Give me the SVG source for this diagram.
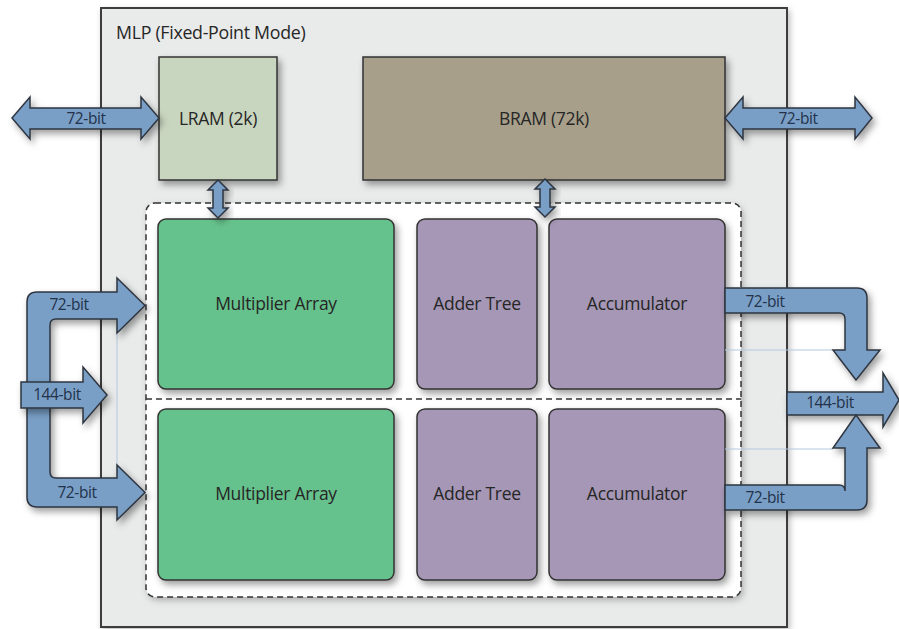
<svg xmlns="http://www.w3.org/2000/svg" width="899" height="629" viewBox="0 0 899 629">
  <defs>
    <filter id="shadow" x="-20%" y="-20%" width="150%" height="150%">
      <feDropShadow dx="3" dy="4" stdDeviation="3.5" flood-color="#000" flood-opacity="0.38"/>
    </filter>
    <filter id="softShadow" x="-10%" y="-10%" width="130%" height="130%">
      <feDropShadow dx="2" dy="3" stdDeviation="3" flood-color="#000" flood-opacity="0.25"/>
    </filter>
  </defs>
  <style>
    text { font-family: "Open Sans", "Liberation Sans", sans-serif; fill: #262626; }
    .frame { fill: #e9eaea; stroke: #3c3c3c; stroke-width: 2; }
    .block { stroke: #333; stroke-width: 1.5; filter: url(#shadow); }
    .lram { fill: #c9d6bf; }
    .bram { fill: #a89f8b; }
    .mult { fill: #66c28c; }
    .purple { fill: #a597b5; }
    .region { fill: #ffffff; stroke: #333; stroke-width: 1.5; stroke-dasharray: 6 4; filter: url(#softShadow); }
    .divider { stroke: #333; stroke-width: 1.5; stroke-dasharray: 6 4; fill: none; }
    .bus { fill: #7a9fc6; stroke: #2f3640; stroke-width: 1.5; stroke-linejoin: miter; filter: url(#shadow); }
    .wire { stroke: #b4c8df; stroke-width: 1; fill: none; }
    .lbl { font-size: 17.5px; text-anchor: middle; letter-spacing: -0.3px; }
    .bus-lbl { font-size: 15.5px; text-anchor: middle; fill: #22324a; letter-spacing: -0.4px; }
  </style>

  <!-- MLP outer frame -->
  <g id="mlp">
    <rect class="frame" x="101" y="8" width="686" height="619" filter="url(#softShadow)"/>
    <text x="116" y="39" style="font-size:17.8px; letter-spacing:-0.3px">MLP (Fixed-Point Mode)</text>
  </g>

  <!-- datapath region -->
  <g id="datapath">
    <rect class="region" x="146" y="203" width="595" height="394" rx="9"/>
    <line class="divider" x1="146" y1="399" x2="741" y2="399"/>
  </g>

  <!-- memories -->
  <g id="lram">
    <rect class="block lram" x="159" y="57" width="118" height="123"/>
    <text class="lbl" x="218" y="125">LRAM (2k)</text>
  </g>
  <g id="bram">
    <rect class="block bram" x="363" y="57" width="362" height="123"/>
    <text class="lbl" x="544" y="125">BRAM (72k)</text>
  </g>

  <!-- upper lane -->
  <g id="mult-top">
    <rect class="block mult" x="158" y="219" width="236" height="170" rx="8"/>
    <text class="lbl" x="276" y="310">Multiplier Array</text>
  </g>
  <g id="adder-top">
    <rect class="block purple" x="417" y="219" width="120" height="170" rx="8"/>
    <text class="lbl" x="477" y="310">Adder Tree</text>
  </g>
  <g id="acc-top">
    <rect class="block purple" x="549" y="219" width="176" height="170" rx="8"/>
    <text class="lbl" x="637" y="310">Accumulator</text>
  </g>

  <!-- lower lane -->
  <g id="mult-bottom">
    <rect class="block mult" x="158" y="409" width="236" height="171" rx="8"/>
    <text class="lbl" x="276" y="500">Multiplier Array</text>
  </g>
  <g id="adder-bottom">
    <rect class="block purple" x="417" y="409" width="120" height="171" rx="8"/>
    <text class="lbl" x="477" y="500">Adder Tree</text>
  </g>
  <g id="acc-bottom">
    <rect class="block purple" x="549" y="409" width="176" height="171" rx="8"/>
    <text class="lbl" x="637" y="500">Accumulator</text>
  </g>

  <!-- buses -->
  <g id="connectors">
    <!-- thin guide wires -->
    <line class="wire" x1="117" y1="334" x2="117" y2="465"/>
    <line class="wire" x1="725" y1="350" x2="833" y2="350"/>
    <line class="wire" x1="725" y1="449" x2="833" y2="449"/>

    <!-- external port to LRAM -->
    <path class="bus" d="M12,118 L30,97 L30,108 L141,108 L141,97 L159,118 L141,139 L141,129 L30,129 L30,139 Z"/>
    <text class="bus-lbl" x="86" y="124">72-bit</text>

    <!-- BRAM to external port -->
    <path class="bus" d="M725,118 L743,97 L743,108 L855,108 L855,97 L872,118 L855,139 L855,129 L743,129 L743,139 Z"/>
    <text class="bus-lbl" x="798" y="124">72-bit</text>

    <!-- LRAM / BRAM to datapath -->
    <path class="bus" d="M218,180 L228,190 L223,190 L223,208 L228,208 L218,218 L208,208 L213,208 L213,190 L208,190 Z"/>
    <path class="bus" d="M545,179 L555,189 L550,189 L550,207 L555,207 L545,217 L535,207 L540,207 L540,189 L535,189 Z"/>

    <!-- 144-bit input split into two 72-bit lanes -->
    <path class="bus" d="M37,292 L117,292 L117,278 L145,305.5 L117,333 L117,319 L56,319 Q50,319 50,325 L50,472 Q50,478 56,478 L117,478 L117,465 L145,492.5 L117,520 L117,507 L37,507 Q27,507 27,497 L27,302 Q27,292 37,292 Z"/>
    <path class="bus" d="M21,382 L83,382 L83,367 L107,395 L83,423 L83,408 L21,408 Z"/>
    <text class="bus-lbl" x="69" y="310">72-bit</text>
    <text class="bus-lbl" x="57" y="400">144-bit</text>
    <text class="bus-lbl" x="77" y="498">72-bit</text>

    <!-- two 72-bit lanes merged into 144-bit output -->
    <path class="bus" d="M787,392 L883,392 L883,373 L899,400 L883,427 L883,415 L787,415 Z"/>
    <path class="bus" d="M725,288 L857,288 Q867,288 867,298 L867,350 L880,350 L856,380 L833,350 L845,350 L845,319 Q845,313 839,313 L725,313 Z"/>
    <path class="bus" d="M725,510 L857,510 Q867,510 867,500 L867,448 L880,448 L856,415 L833,448 L845,448 L845,491 Q845,485 839,485 L725,485 Z"/>
    <text class="bus-lbl" x="765" y="307">72-bit</text>
    <text class="bus-lbl" x="830" y="408">144-bit</text>
    <text class="bus-lbl" x="765" y="503">72-bit</text>
  </g>
</svg>
